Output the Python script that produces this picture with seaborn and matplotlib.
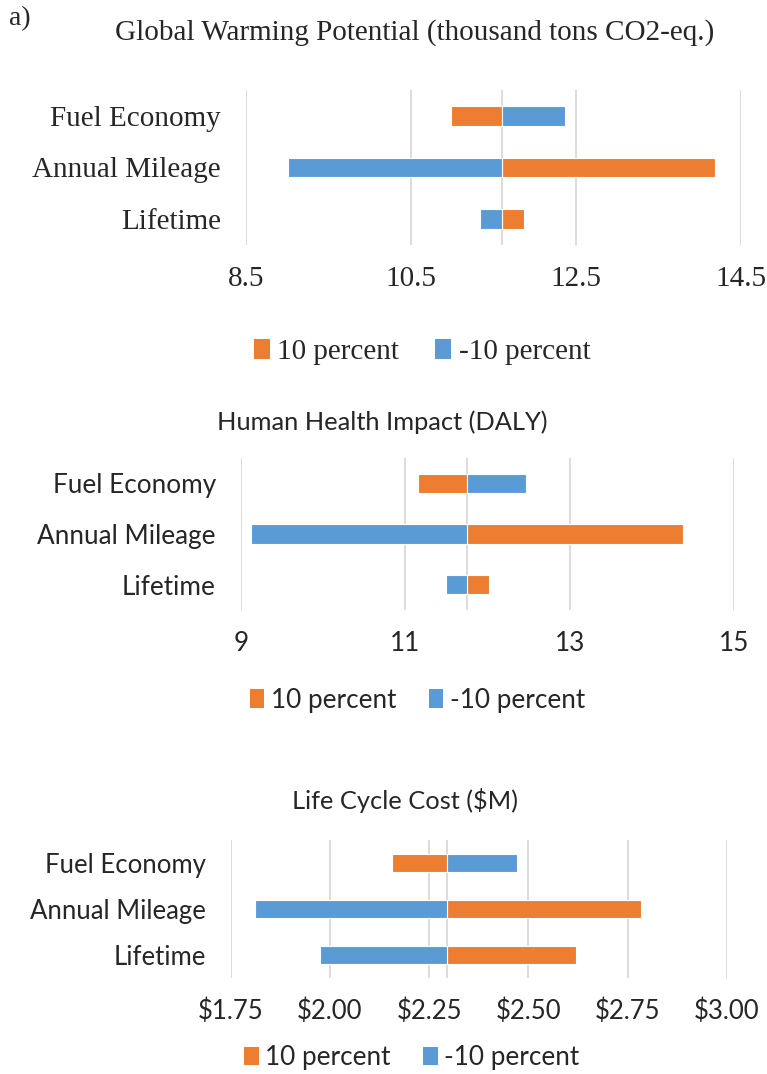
import pandas as pd
import matplotlib
matplotlib.use("Agg")
import matplotlib.pyplot as plt
from matplotlib.patches import Patch
import seaborn as sns

factors = ["Fuel Economy", "Annual Mileage", "Lifetime"]
cases = ["10 percent", "-10 percent"]

# global warming potential (thousand tons CO2-eq.)
gwp_base = 11.60
gwp_plus = [10.99, 14.19, 11.87]
gwp_minus = [12.37, 9.01, 11.34]
gwp_ticks = [8.5, 10.5, 12.5, 14.5]
gwp_labels = ["8.5", "10.5", "12.5", "14.5"]

# human health impact (DALY)
hh_base = 11.75
hh_plus = [11.16, 14.38, 12.02]
hh_minus = [12.47, 9.12, 11.49]
hh_ticks = [9, 11, 13, 15]
hh_labels = ["9", "11", "13", "15"]

# life cycle cost ($M)
lcc_base = 2.296
lcc_plus = [2.156, 2.784, 2.621]
lcc_minus = [2.472, 1.811, 1.974]
lcc_ticks = [1.75, 2.00, 2.25, 2.50, 2.75, 3.00]
lcc_labels = ["$1.75", "$2.00", "$2.25", "$2.50", "$2.75", "$3.00"]

colors = {"10 percent": "#ED7D31", "-10 percent": "#5B9BD5"}
grid_col = "#D9D9D9"

sns.set_style("white")
plt.rcParams["font.family"] = ["Liberation Serif", "DejaVu Sans"]

fig = plt.figure(figsize=(7.67, 10.74), dpi=100)


def tornado(rect, base, plus, minus, ticks, labels, family, size, bar_h):
    ax = fig.add_axes(rect)
    df = pd.DataFrame({
        "factor": factors * 2,
        "case": [cases[0]] * 3 + [cases[1]] * 3,
        "delta": [v - base for v in plus] + [v - base for v in minus],
    })
    ax.axvline(0, color=grid_col, lw=1.3, zorder=0.5)
    sns.barplot(data=df, x="delta", y="factor", hue="case", hue_order=cases,
                order=factors, palette=colors, dodge=False, orient="y",
                width=bar_h, errorbar=None, saturation=1, edgecolor="white",
                linewidth=0.8, ax=ax, zorder=2)
    ax.legend_.remove()
    ax.set_xlim(ticks[0] - base, ticks[-1] - base)
    ax.set_xticks([t - base for t in ticks])
    ax.set_xticklabels(labels)
    ax.set_xlabel("")
    ax.set_ylabel("")
    ax.grid(axis="x", color=grid_col, lw=1.3)
    ax.grid(axis="y", visible=False)
    ax.set_axisbelow(True)
    for s in ax.spines.values():
        s.set_visible(False)
    ax.tick_params(axis="x", length=0, pad=15, labelsize=size)
    ax.tick_params(axis="y", length=0, pad=18, labelsize=size)
    for t in ax.get_xticklabels() + ax.get_yticklabels():
        t.set_family(family)
    return ax


def legend(x, y, family, size):
    handles = [Patch(facecolor=colors[c], edgecolor="none") for c in cases]
    fig.legend(handles, cases, loc="center", bbox_to_anchor=(x, y), ncol=2,
               frameon=False, prop={"family": family, "size": size},
               handlelength=0.55, handleheight=0.7, handletextpad=0.25,
               columnspacing=1.25)


serif = ["Liberation Serif", "DejaVu Serif"]
sans = ["Lato", "DejaVu Sans"]

fig.text(0.012, 0.983, "a)", family=serif, fontsize=20, va="center")

fig.text(0.541, 0.970, "Global Warming Potential (thousand tons CO2-eq.)",
         family=serif, fontsize=21, ha="center", va="center")
tornado([0.3207, 0.7719, 0.6454, 0.1443], gwp_base, gwp_plus, gwp_minus,
        gwp_ticks, gwp_labels, serif, 21, 0.38)
legend(0.550, 0.672, serif, 21)

fig.text(0.498, 0.607, "Human Health Impact (DALY)",
         family=sans, fontsize=18.3, ha="center", va="center")
tornado([0.3142, 0.432, 0.6428, 0.1415], hh_base, hh_plus, hh_minus,
        hh_ticks, hh_labels, sans, 18.8, 0.38)
legend(0.544, 0.348, sans, 18.8)

fig.text(0.528, 0.255, "Life Cycle Cost ($M)",
         family=sans, fontsize=18.3, ha="center", va="center")
tornado([0.3008, 0.0894, 0.6467, 0.1285], lcc_base, lcc_plus, lcc_minus,
        lcc_ticks, lcc_labels, sans, 18.5, 0.38)
legend(0.537, 0.015, sans, 18.8)

fig.savefig("out.png", dpi=100)
